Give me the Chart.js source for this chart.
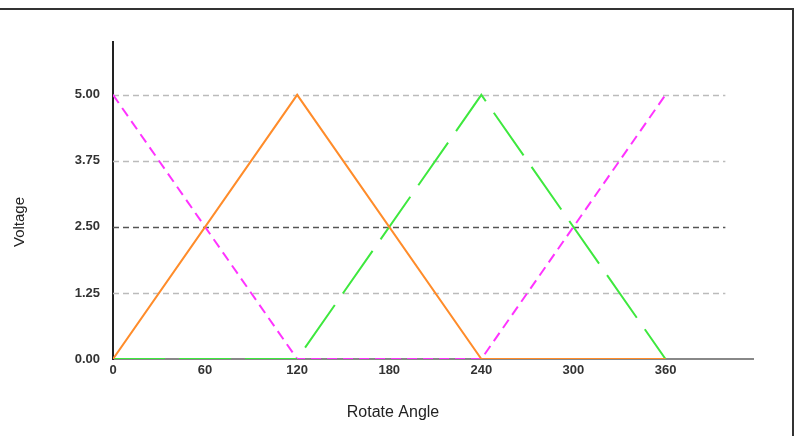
<!DOCTYPE html>
<html>
<head>
<meta charset="utf-8">
<script src="https://cdn.jsdelivr.net/npm/chart.js@4"></script>
<style>
  body { margin: 0; background: #fff; }
  #wrap { position: relative; width: 798px; height: 436px; }
  #frame { position: absolute; left: 0; top: 8px; width: 794px; height: 428px;
           border-top: 2px solid #333; border-right: 2px solid #333; box-sizing: border-box; }
</style>
</head>
<body>
<div id="wrap">
  <canvas id="grafico" width="798" height="436"></canvas>
  <div id="frame"></div>
</div>
<script>
// angles in degrees, voltages in volts
const angulos = [0, 120, 240, 360];
const faseA = [0, 5, 0, 0];      // laranja
const faseB = [0, 0, 5, 0];      // verde
const faseC = [5, 0, 0, 5];      // magenta
const ticksX = [0, 60, 120, 180, 240, 300, 360];
const ticksY = [0, 1.25, 2.5, 3.75, 5];
const tituloX = 'Rotate Angle';
const tituloY = 'Voltage';

function pontos(vals) {
    return angulos.map((a, i) => ({ x: a, y: vals[i] }));
}

// linhas de grade tracejadas que param antes do fim do eixo
const gradePlugin = {
    id: 'grade',
    beforeDatasetsDraw(chart) {
        const ctx = chart.ctx;
        const xs = chart.scales.x, ys = chart.scales.y;
        ctx.save();
        ctx.setLineDash([6, 4]);
        ctx.lineWidth = 1.5;
        ticksY.forEach(v => {
            if (v === 0) return;
            const y = Math.round(ys.getPixelForValue(v)) + 0.5;
            ctx.strokeStyle = v === 2.5 ? '#555' : '#bbb';
            ctx.beginPath();
            ctx.moveTo(xs.getPixelForValue(0), y);
            ctx.lineTo(xs.getPixelForValue(399), y);
            ctx.stroke();
        });
        ctx.restore();
    },
    afterDraw(chart) {
        // titulos dos eixos, posicionados como no original
        const ctx = chart.ctx;
        ctx.save();
        ctx.fillStyle = '#222';
        ctx.textAlign = 'center';
        ctx.textBaseline = 'middle';
        ctx.font = '16px "Liberation Sans"';
        ctx.fillText(tituloX, 393, 413);
        ctx.translate(20, 222);
        ctx.rotate(-Math.PI / 2);
        ctx.font = '15px "Liberation Sans"';
        ctx.fillText(tituloY, 0, 0);
        ctx.restore();
    }
};

const ctx = document.getElementById("grafico").getContext("2d");
new Chart(ctx, {
    type: 'line',
    data: {
        datasets: [
            {
                label: 'A',
                data: pontos(faseA),
                borderColor: '#ff8c2a',
                borderWidth: 2,
                pointRadius: 0,
                fill: false
            },
            {
                label: 'B',
                data: pontos(faseB),
                borderColor: '#3ee83e',
                borderWidth: 2,
                borderDash: [52, 14],
                pointRadius: 0,
                fill: false
            },
            {
                label: 'C',
                data: pontos(faseC),
                borderColor: '#ff33ff',
                borderWidth: 2,
                borderDash: [10, 6],
                pointRadius: 0,
                fill: false
            }
        ]
    },
    plugins: [gradePlugin],
    options: {
        responsive: false,
        animation: false,
        layout: { padding: { left: 0, top: 42, right: 45, bottom: 0 } },
        plugins: {
            legend: { display: false },
            tooltip: { enabled: false }
        },
        scales: {
            x: {
                type: 'linear',
                min: 0,
                max: 417,
                afterBuildTicks: s => { s.ticks = ticksX.map(v => ({ value: v })); },
                afterFit: s => { s.height = 77; },
                grid: { display: false, drawTicks: false },
                border: { color: '#888', width: 2 },
                ticks: {
                    padding: 4,
                    maxRotation: 0,
                    color: '#333',
                    font: { family: 'Liberation Sans', size: 13, weight: 'bold' }
                }
            },
            y: {
                min: 0,
                max: 6,
                afterBuildTicks: s => { s.ticks = ticksY.map(v => ({ value: v })); },
                afterFit: s => { s.width = 113; },
                grid: { display: false, drawTicks: false },
                border: { color: '#222', width: 2 },
                ticks: {
                    padding: 13,
                    color: '#333',
                    callback: v => v.toFixed(2),
                    font: { family: 'Liberation Sans', size: 13, weight: 'bold' }
                }
            }
        }
    }
});
</script>
</body>
</html>
